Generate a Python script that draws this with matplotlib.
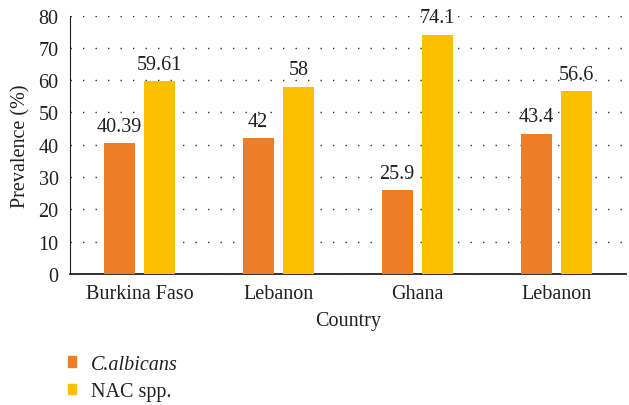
import matplotlib
matplotlib.use("Agg")
import matplotlib.pyplot as plt
import numpy as np

countries = ["Burkina Faso", "Lebanon", "Ghana", "Lebanon"]
albicans = [40.39, 42, 25.9, 43.4]
nac = [59.61, 58, 74.1, 56.6]
albicans_labels = ["40.39", "42", "25.9", "43.4"]
nac_labels = ["59.61", "58", "74.1", "56.6"]

plt.rcParams["font.family"] = "Liberation Serif"
fs = 14.5
txt = "#231f20"

fig = plt.figure(figsize=(6.29, 4.06), dpi=100)
ax = fig.add_axes([0.111, 0.323, 0.884, 0.636])

x = np.arange(len(countries))
w = 0.225
off = 0.145
b1 = ax.bar(x - off, albicans, w, color="#ED7D26", zorder=3)
b2 = ax.bar(x + off, nac, w, color="#FBC002", zorder=3)

# value labels above bars
for bars, labels in [(b1, albicans_labels), (b2, nac_labels)]:
    for rect, lab in zip(bars, labels):
        ax.text(rect.get_x() + rect.get_width() / 2, rect.get_height() + 2.3, lab,
                ha="center", va="bottom", fontsize=fs, color=txt)

ax.set_xlim(-0.5, 3.5)
ax.set_ylim(0, 80)
ax.set_yticks(range(0, 81, 10))
ax.set_xticks(x)
ax.set_xticklabels(countries)
ax.tick_params(axis="both", length=0, labelsize=fs, colors=txt)
ax.tick_params(axis="y", pad=8)
ax.tick_params(axis="x", pad=7)
ax.yaxis.grid(True, linestyle=(0, (1, 8)), color="#333333", linewidth=1.0)
for s in ["top", "right"]:
    ax.spines[s].set_visible(False)
ax.spines["left"].set_color(txt)
ax.spines["bottom"].set_color(txt)
ax.spines["bottom"].set_linewidth(1.3)
ax.set_xlabel("Country", fontsize=fs, color=txt, labelpad=6)
ax.set_ylabel("Prevalence (%)", fontsize=fs, color=txt, labelpad=6)

h1 = plt.Rectangle((0, 0), 1, 1, color="#ED7D26")
h2 = plt.Rectangle((0, 0), 1, 1, color="#FBC002")
leg = fig.legend([h1, h2], ["C.albicans", "NAC spp."], loc="upper left",
                 bbox_to_anchor=(0.108, 0.124), frameon=False, fontsize=fs,
                 handlelength=0.4, handleheight=0.4, handletextpad=0.75,
                 labelspacing=0.42, borderpad=0, borderaxespad=0)
leg.get_texts()[0].set_style("italic")
for t in leg.get_texts():
    t.set_color(txt)

fig.savefig("out.png", dpi=100)
